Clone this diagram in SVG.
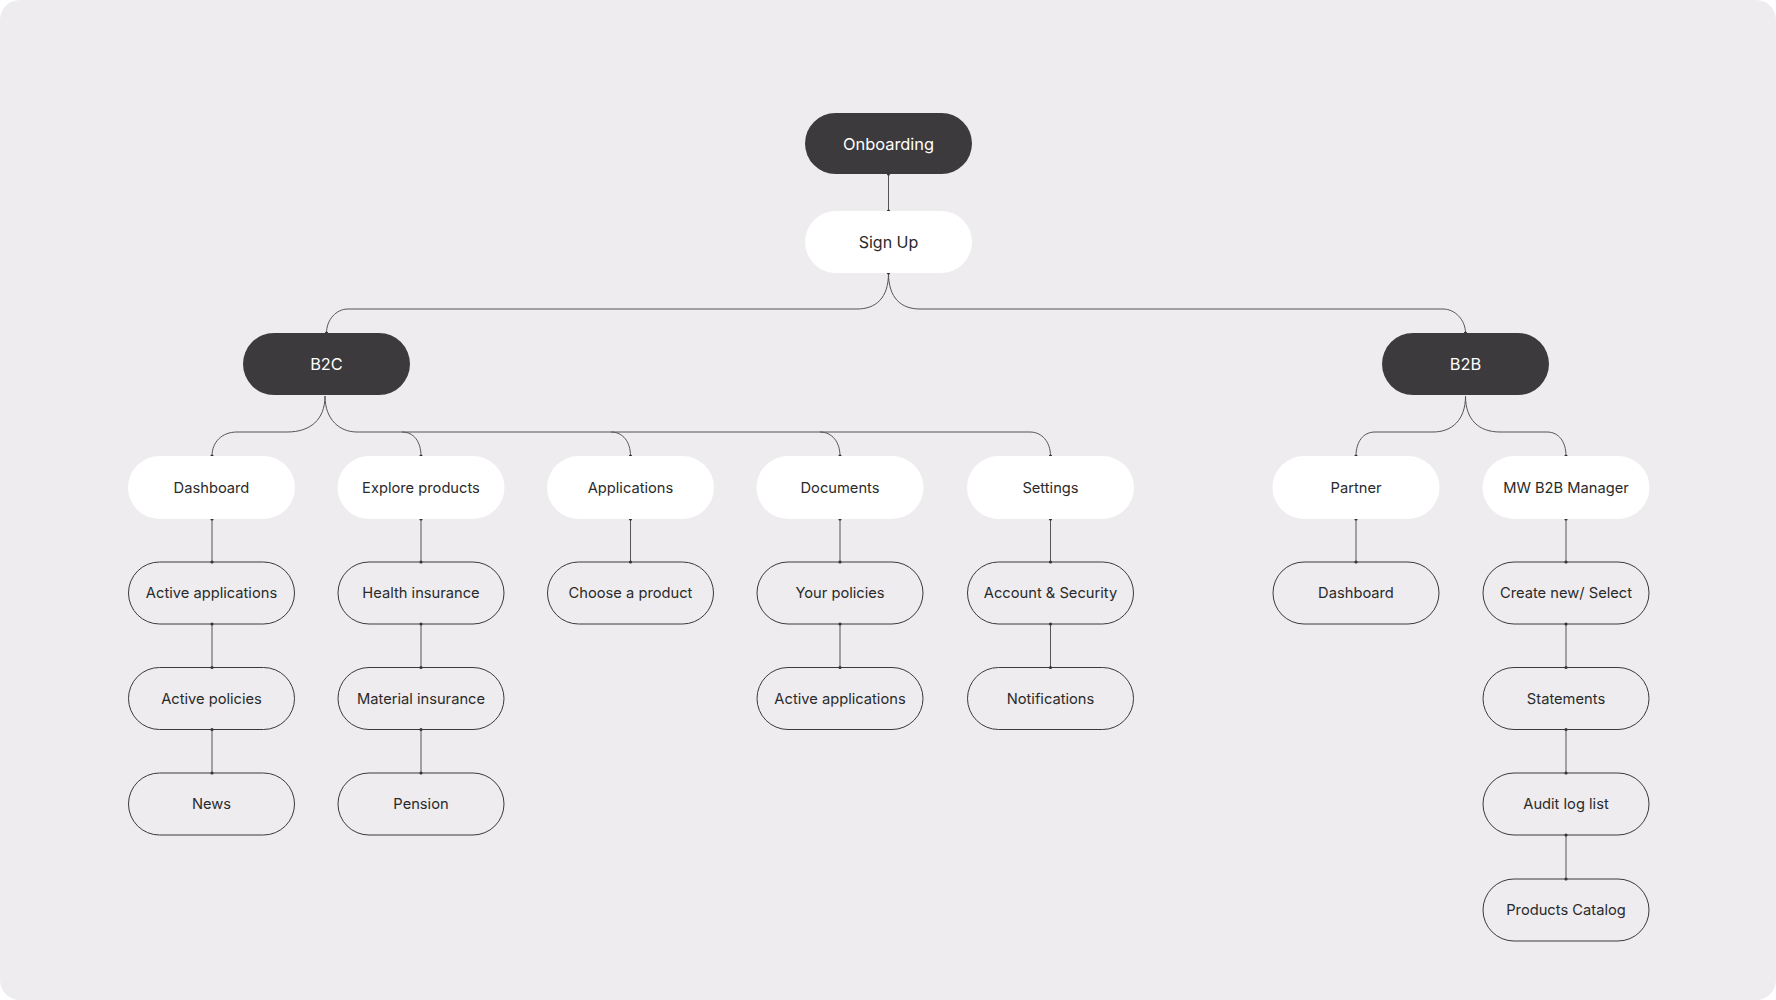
<svg xmlns="http://www.w3.org/2000/svg" width="1776" height="1000" viewBox="0 0 1776 1000">
<defs>
<style>
.bg{fill:#EEECEF}
.dark rect{fill:#3C3A3D}
.dark text{fill:#FFFFFF}
.white rect{fill:#FFFFFF}
.outline rect{fill:none;stroke:#3A3A3A;stroke-width:1}
text{font-family:Inter,"Liberation Sans",sans-serif;font-size:14.7px;fill:#2A2A2A;text-anchor:middle;dominant-baseline:central}
.dark text{font-size:16.4px}
#signup text{font-size:16px}
#connectors path{fill:none;stroke:#555;stroke-width:1}
#connectors circle{fill:#333}
</style>
</defs>
<rect x="0" y="0" width="1776" height="1000" fill="#FFFFFF"/>
<rect class="bg" x="0" y="0" width="1776" height="1000" rx="20"/>

<g id="connectors">
<path d="M888.5 174 V211"/>
<path d="M888.5 273 C888.5 298 876 309 857 309 H348 C336 309 326.5 320 326.5 333"/>
<path d="M888.5 273 C888.5 298 901 309 920 309 H1443 C1455 309 1465.5 320 1465.5 333"/>
<path d="M325 396 C325 420 310 432 287 432 H237 C222 432 212 442 212 456"/>
<path d="M325 396 C325 420 340 432 357 432 H1030 C1042 432 1050.5 442 1050.5 456"/>
<path d="M402 432 C414 432 421 442 421 456"/>
<path d="M611 432 C623 432 630.5 442 630.5 456"/>
<path d="M820 432 C832 432 840 442 840 456"/>
<path d="M1465.5 396 C1465.5 420 1452 432 1433 432 H1375 C1363 432 1356 442 1356 456"/>
<path d="M1465.5 396 C1465.5 420 1479 432 1500 432 H1547 C1559 432 1566 442 1566 456"/>
<path d="M212 519 V562 M212 624 V667.5 M212 729.5 V773"/>
<path d="M421 519 V562 M421 624 V667.5 M421 729.5 V773"/>
<path d="M630.5 519 V562"/>
<path d="M840 519 V562 M840 624 V667.5"/>
<path d="M1050.5 519 V562 M1050.5 624 V667.5"/>
<path d="M1356 519 V562"/>
<path d="M1566 519 V562 M1566 624 V667.5 M1566 729.5 V773 M1566 835 V879"/>
<circle cx="888.5" cy="174" r="1.6"/><circle cx="888.5" cy="211" r="1.6"/><circle cx="888.5" cy="273" r="1.6"/>
<circle cx="326.5" cy="333" r="1.6"/><circle cx="1465.5" cy="333" r="1.6"/>
<circle cx="212" cy="456" r="1.6"/><circle cx="421" cy="456" r="1.6"/><circle cx="630.5" cy="456" r="1.6"/><circle cx="840" cy="456" r="1.6"/><circle cx="1050.5" cy="456" r="1.6"/><circle cx="1356" cy="456" r="1.6"/><circle cx="1566" cy="456" r="1.6"/>
<circle cx="212" cy="519" r="1.6"/><circle cx="212" cy="562" r="1.6"/><circle cx="212" cy="624" r="1.6"/><circle cx="212" cy="667.5" r="1.6"/><circle cx="212" cy="729.5" r="1.6"/><circle cx="212" cy="773" r="1.6"/>
<circle cx="421" cy="519" r="1.6"/><circle cx="421" cy="562" r="1.6"/><circle cx="421" cy="624" r="1.6"/><circle cx="421" cy="667.5" r="1.6"/><circle cx="421" cy="729.5" r="1.6"/><circle cx="421" cy="773" r="1.6"/>
<circle cx="630.5" cy="519" r="1.6"/><circle cx="630.5" cy="562" r="1.6"/>
<circle cx="840" cy="519" r="1.6"/><circle cx="840" cy="562" r="1.6"/><circle cx="840" cy="624" r="1.6"/><circle cx="840" cy="667.5" r="1.6"/>
<circle cx="1050.5" cy="519" r="1.6"/><circle cx="1050.5" cy="562" r="1.6"/><circle cx="1050.5" cy="624" r="1.6"/><circle cx="1050.5" cy="667.5" r="1.6"/>
<circle cx="1356" cy="519" r="1.6"/><circle cx="1356" cy="562" r="1.6"/>
<circle cx="1566" cy="519" r="1.6"/><circle cx="1566" cy="562" r="1.6"/><circle cx="1566" cy="624" r="1.6"/><circle cx="1566" cy="667.5" r="1.6"/><circle cx="1566" cy="729.5" r="1.6"/><circle cx="1566" cy="773" r="1.6"/><circle cx="1566" cy="835" r="1.6"/><circle cx="1566" cy="879" r="1.6"/>
</g>

<g id="onboarding" class="dark"><rect x="805" y="113" width="167" height="61" rx="30.5"/><text x="888.5" y="143.5">Onboarding</text></g>
<g id="signup" class="white"><rect x="805" y="211" width="167" height="62" rx="31"/><text x="888.5" y="242">Sign Up</text></g>
<g id="b2c" class="dark"><rect x="243" y="333" width="167" height="62" rx="31"/><text x="326.5" y="364">B2C</text></g>
<g id="b2b" class="dark"><rect x="1382" y="333" width="167" height="62" rx="31"/><text x="1465.5" y="364">B2B</text></g>

<g id="dashboard" class="white"><rect x="128" y="456" width="167" height="63" rx="31.5"/><text x="211.5" y="487.5">Dashboard</text></g>
<g id="explore" class="white"><rect x="337.5" y="456" width="167" height="63" rx="31.5"/><text x="421" y="487.5">Explore products</text></g>
<g id="applications" class="white"><rect x="547" y="456" width="167" height="63" rx="31.5"/><text x="630.5" y="487.5">Applications</text></g>
<g id="documents" class="white"><rect x="756.5" y="456" width="167" height="63" rx="31.5"/><text x="840" y="487.5">Documents</text></g>
<g id="settings" class="white"><rect x="967" y="456" width="167" height="63" rx="31.5"/><text x="1050.5" y="487.5">Settings</text></g>
<g id="partner" class="white"><rect x="1272.5" y="456" width="167" height="63" rx="31.5"/><text x="1356" y="487.5">Partner</text></g>
<g id="mwb2b" class="white"><rect x="1482.5" y="456" width="167" height="63" rx="31.5"/><text x="1566" y="487.5">MW B2B Manager</text></g>

<g id="active-applications-1" class="outline"><rect x="128.5" y="562" width="166" height="62" rx="31"/><text x="211.5" y="593">Active applications</text></g>
<g id="active-policies" class="outline"><rect x="128.5" y="667.5" width="166" height="62" rx="31"/><text x="211.5" y="698.5">Active policies</text></g>
<g id="news" class="outline"><rect x="128.5" y="773" width="166" height="62" rx="31"/><text x="211.5" y="804">News</text></g>

<g id="health" class="outline"><rect x="338" y="562" width="166" height="62" rx="31"/><text x="421" y="593">Health insurance</text></g>
<g id="material" class="outline"><rect x="338" y="667.5" width="166" height="62" rx="31"/><text x="421" y="698.5">Material insurance</text></g>
<g id="pension" class="outline"><rect x="338" y="773" width="166" height="62" rx="31"/><text x="421" y="804">Pension</text></g>

<g id="choose" class="outline"><rect x="547.5" y="562" width="166" height="62" rx="31"/><text x="630.5" y="593">Choose a product</text></g>

<g id="your-policies" class="outline"><rect x="757" y="562" width="166" height="62" rx="31"/><text x="840" y="593">Your policies</text></g>
<g id="active-applications-2" class="outline"><rect x="757" y="667.5" width="166" height="62" rx="31"/><text x="840" y="698.5">Active applications</text></g>

<g id="account" class="outline"><rect x="967.5" y="562" width="166" height="62" rx="31"/><text x="1050.5" y="593">Account &amp; Security</text></g>
<g id="notifications" class="outline"><rect x="967.5" y="667.5" width="166" height="62" rx="31"/><text x="1050.5" y="698.5">Notifications</text></g>

<g id="b2b-dashboard" class="outline"><rect x="1273" y="562" width="166" height="62" rx="31"/><text x="1356" y="593">Dashboard</text></g>

<g id="create" class="outline"><rect x="1483" y="562" width="166" height="62" rx="31"/><text x="1566" y="593">Create new/ Select</text></g>
<g id="statements" class="outline"><rect x="1483" y="667.5" width="166" height="62" rx="31"/><text x="1566" y="698.5">Statements</text></g>
<g id="audit" class="outline"><rect x="1483" y="773" width="166" height="62" rx="31"/><text x="1566" y="804">Audit log list</text></g>
<g id="catalog" class="outline"><rect x="1483" y="879" width="166" height="62" rx="31"/><text x="1566" y="910">Products Catalog</text></g>
</svg>
